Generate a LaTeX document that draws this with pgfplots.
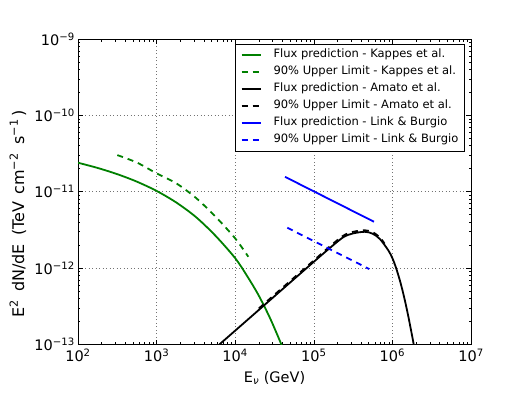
\documentclass[border=0pt]{standalone}
\usepackage{fontspec}
\setmainfont{DejaVu Sans}
\usepackage{pgfplots}
\pgfplotsset{compat=1.18}

\definecolor{mplgreen}{rgb}{0,0.5,0}
\newcommand{\tickfont}{\fontsize{14.5bp}{17bp}\selectfont}

\begin{document}
\begin{tikzpicture}
\path[use as bounding box] (-78bp,-48.5bp) rectangle (445bp,344.5bp);
\begin{axis}[
    at={(0,0)}, anchor=south west,
    scale only axis, width=393bp, height=305.5bp,
    xmode=log, ymode=log,
    xmin=1e2, xmax=1e7, ymin=1e-13, ymax=1e-9,
    xtick={1e2,1e3,1e4,1e5,1e6,1e7},
    xticklabels={10\textsuperscript{2},10\textsuperscript{3},10\textsuperscript{4},10\textsuperscript{5},10\textsuperscript{6},10\textsuperscript{7}},
    ytick={1e-13,1e-12,1e-11,1e-10,1e-9},
    yticklabels={10\textsuperscript{−13},10\textsuperscript{−12},10\textsuperscript{−11},10\textsuperscript{−10},10\textsuperscript{−9}},
    minor xtick={2e2,3e2,4e2,5e2,6e2,7e2,8e2,9e2,2e3,3e3,4e3,5e3,6e3,7e3,8e3,9e3,
                 2e4,3e4,4e4,5e4,6e4,7e4,8e4,9e4,2e5,3e5,4e5,5e5,6e5,7e5,8e5,9e5,
                 2e6,3e6,4e6,5e6,6e6,7e6,8e6,9e6},
    minor ytick={2e-13,3e-13,4e-13,5e-13,6e-13,7e-13,8e-13,9e-13,
                 2e-12,3e-12,4e-12,5e-12,6e-12,7e-12,8e-12,9e-12,
                 2e-11,3e-11,4e-11,5e-11,6e-11,7e-11,8e-11,9e-11,
                 2e-10,3e-10,4e-10,5e-10,6e-10,7e-10,8e-10,9e-10},
    tick label style={font=\tickfont},
    xticklabel style={inner sep=1bp, yshift=-3bp},
    yticklabel style={inner sep=1bp, xshift=-2bp},
    tick align=inside,
    tick pos=both,
    major tick length=5bp, minor tick length=2.5bp,
    every tick/.style={black, line width=0.6bp},
    axis line style={line width=0.9bp},
    grid=major,
    major grid style={black!55, line width=0.6bp, dash pattern=on 1bp off 2.5bp},
    legend style={
        at={(rel axis cs:1,1)}, anchor=north east, xshift=-6.5bp, yshift=-4.5bp,
        draw=black,
        font=\fontsize{11.5bp}{13bp}\selectfont,
        inner xsep=6bp, inner ysep=5.5bp,
        row sep=6bp,
        nodes={inner sep=0pt, text height=8.5bp, text depth=2.5bp},
        /tikz/every odd column/.append style={column sep=12bp},
    },
    legend cell align=left,
    legend image code/.code={\draw[#1, line width=1.8bp] (0bp,0bp) -- (19bp,0bp);},
]

% Kappes et al. - flux prediction
\addplot[mplgreen, line width=1.8bp, smooth] coordinates {
    (100, 2.40e-11) (177.8, 2.05e-11) (316.2, 1.70e-11) (562.3, 1.355e-11)
    (1000, 1.026e-11) (1778, 7.24e-12) (3162, 4.67e-12) (5623, 2.65e-12)
    (10000, 1.35e-12) (14125, 7.94e-13) (19953, 4.37e-13) (28184, 2.14e-13)
    (39811, 9.33e-14)
};
\addlegendentry{Flux prediction - Kappes et al.}

% Kappes et al. - upper limit
\addplot[mplgreen, line width=1.8bp, smooth, dash pattern=on 6bp off 5bp] coordinates {
    (316.2, 3.02e-11) (562.3, 2.41e-11) (1000, 1.74e-11) (1778, 1.29e-11)
    (3162, 8.32e-12) (5623, 4.72e-12) (10000, 2.45e-12) (14690, 1.41e-12)
};
\addlegendentry{90\% Upper Limit - Kappes et al.}

% Amato et al. - flux prediction
\addplot[black, line width=1.8bp, smooth] coordinates {
    (5623, 9.06e-14) (10000, 1.52e-13) (31623, 4.29e-13) (100000, 1.21e-12)
    (158489, 1.82e-12) (237137, 2.54e-12) (316228, 2.85e-12) (446684, 2.99e-12)
    (562341, 2.82e-12) (695024, 2.40e-12) (887156, 1.71e-12) (1000000, 1.35e-12)
    (1112000, 1.01e-12) (1259000, 6.62e-13) (1413000, 4.13e-13) (1585000, 2.40e-13)
    (1811000, 1.19e-13) (1905000, 8.83e-14)
};
\addlegendentry{Flux prediction - Amato et al.}

% Amato et al. - upper limit
\addplot[black, line width=1.8bp, smooth, dash pattern=on 6bp off 5bp] coordinates {
    (19953, 2.96e-13) (31623, 4.49e-13) (100000, 1.26e-12) (158489, 1.91e-12)
    (237137, 2.66e-12) (316228, 2.99e-12) (446684, 3.13e-12) (562341, 2.95e-12)
    (695024, 2.52e-12) (794328, 2.09e-12)
};
\addlegendentry{90\% Upper Limit - Amato et al.}

% Link & Burgio
\addplot[blue, line width=1.8bp] coordinates {
    (43000, 1.57e-11) (583000, 4.05e-12)
};
\addlegendentry{Flux prediction - Link \& Burgio}

\addplot[blue, line width=1.8bp, dash pattern=on 6bp off 5bp] coordinates {
    (46000, 3.38e-12) (508000, 9.73e-13)
};
\addlegendentry{90\% Upper Limit - Link \& Burgio}

\end{axis}

\node[rotate=90, font=\fontsize{16bp}{18bp}\selectfont] at (-60bp,130.5bp)
    {E\textsuperscript{2}\hspace{0.5em}dN/dE\hspace{0.5em}(TeV\hspace{0.45em}cm\textsuperscript{−2}\hspace{0.55em}s\textsuperscript{−1}\hspace{0.15em})};
\node[font=\tickfont] at (196.5bp,-33.5bp) {E\textsubscript{\textit{ν}} (GeV)};
\end{tikzpicture}
\end{document}
